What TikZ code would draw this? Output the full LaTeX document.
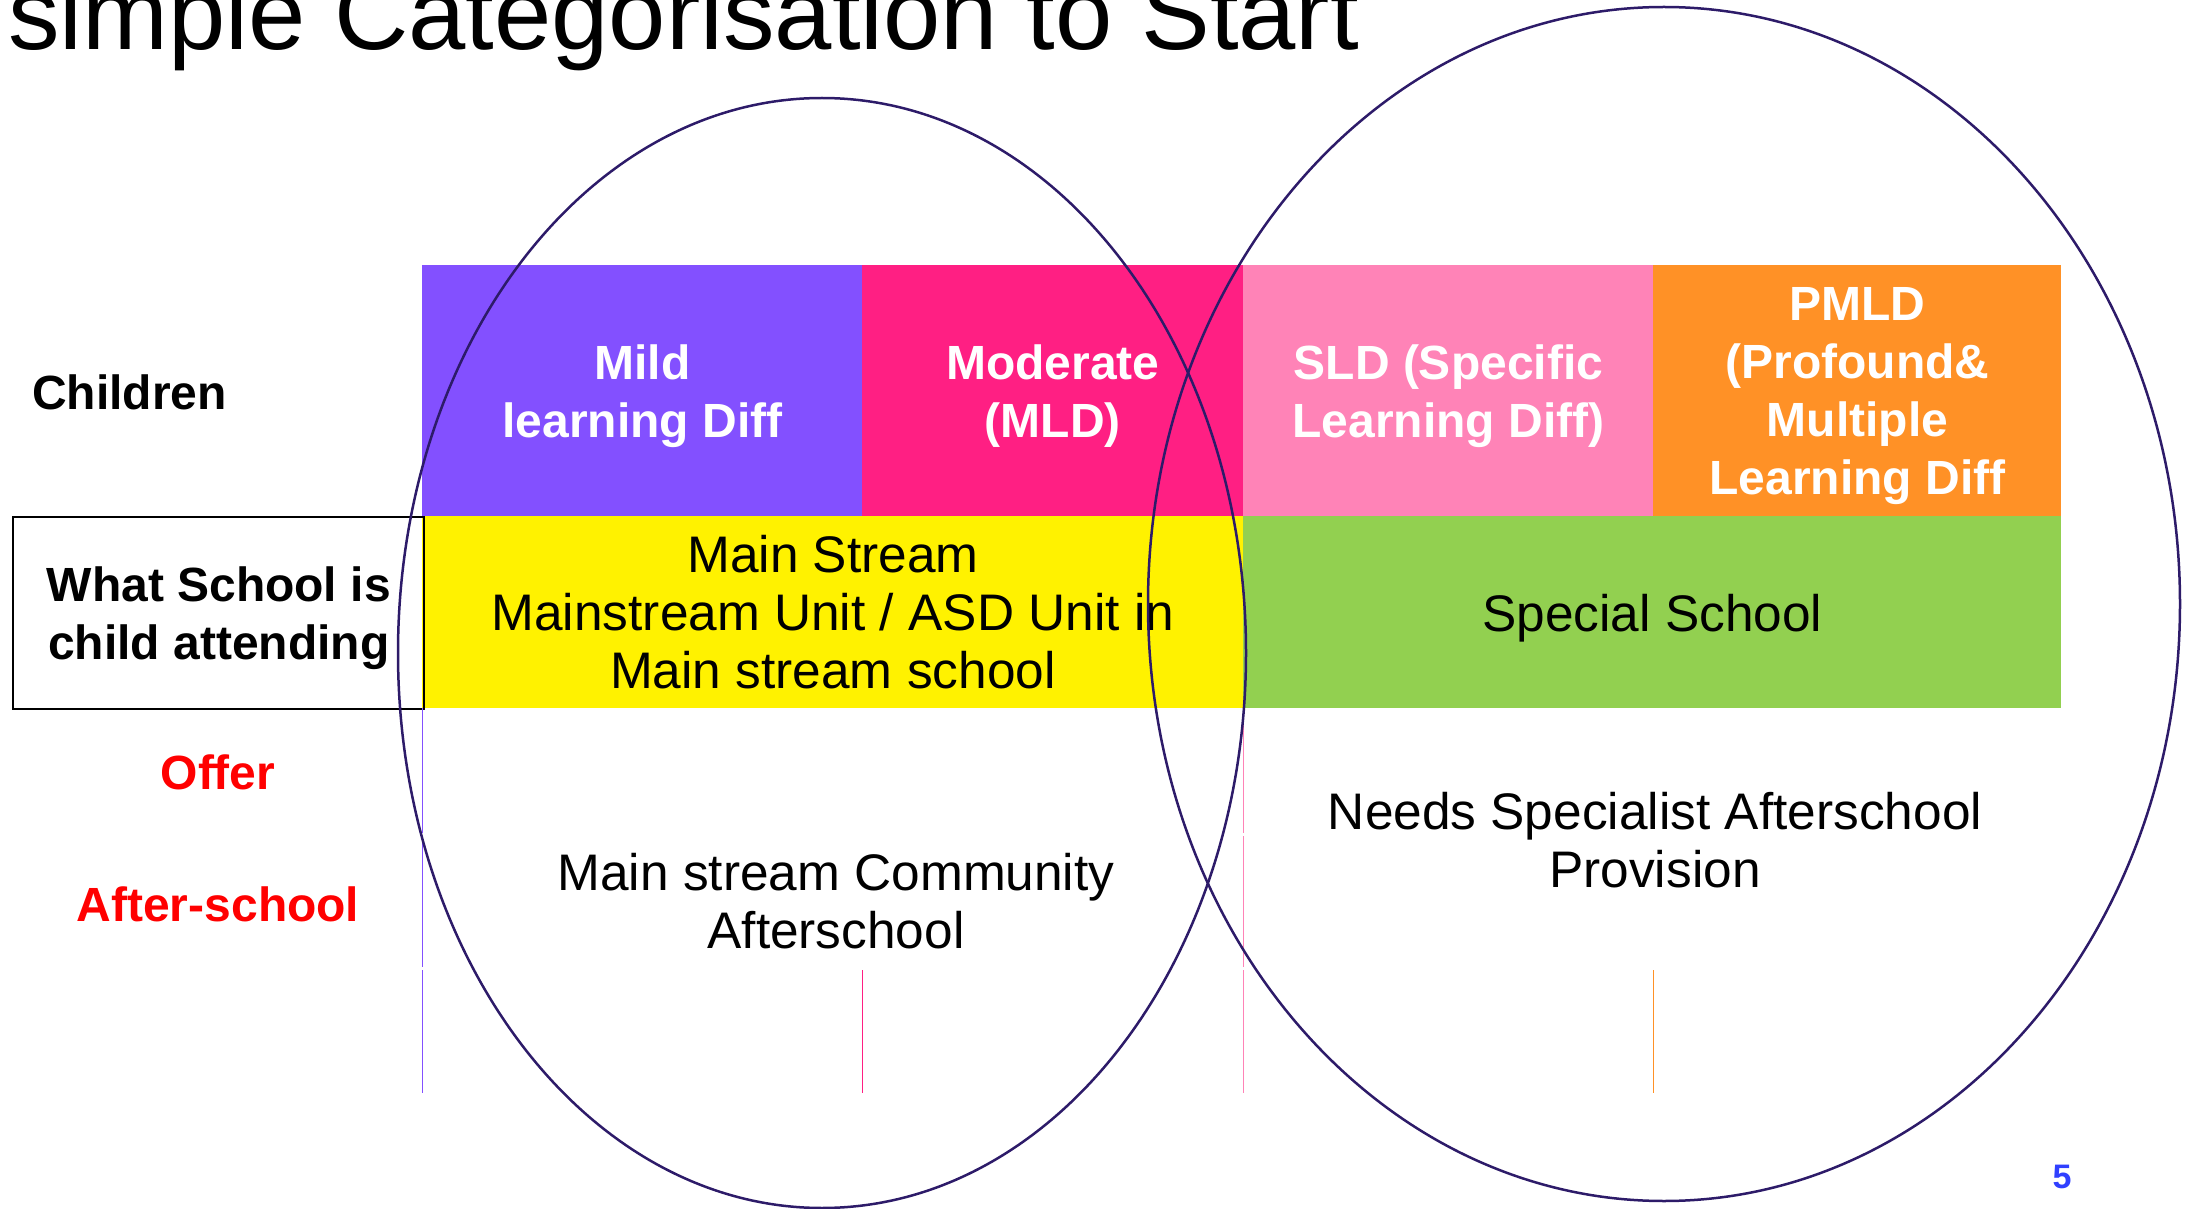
\documentclass[tikz,border=0pt]{standalone}
\usepackage{fontspec}
\setmainfont{Liberation Sans}
\usepackage{xcolor}

\definecolor{mildc}{HTML}{8350FF}
\definecolor{modc}{HTML}{FF1F83}
\definecolor{sldc}{HTML}{FF83B7}
\definecolor{pmldc}{HTML}{FF9126}
\definecolor{specc}{HTML}{92D050}
\definecolor{ringc}{HTML}{2D1B69}
\definecolor{pagec}{HTML}{3040FF}

\tikzset{
  cell/.style={rectangle, inner sep=0pt, anchor=north west, align=center},
  head/.style={cell, text=white, text depth=0pt, minimum height=125.5pt, font=\fontsize{24}{29}\selectfont\bfseries},
  body/.style={align=center, font=\fontsize{25.7}{29}\selectfont},
  rowlab/.style={align=center, font=\fontsize{24}{29}\selectfont\bfseries},
  grid/.style={line width=0.5pt},
  ring/.style={draw=ringc, line width=1.25pt}
}

\begin{document}
\begin{tikzpicture}[x=0.5pt,y=-0.5pt]
\useasboundingbox (0,0) rectangle (2192,1209);

\node[anchor=base west, font=\fontsize{51.5}{60}\selectfont] (0) at (1,50) {simple Categorisation to Start};

\node[head, fill=mildc, minimum width=220pt] (1) at (422,265) {Mild\\learning Diff};
\node[head, fill=modc, minimum width=190.5pt] (2) at (862,265) {Moderate\\(MLD)};
\node[head, fill=sldc, minimum width=205pt] (3) at (1243,265) {SLD (Specific\\Learning Diff)};
\node[head, fill=pmldc, minimum width=204pt] (4) at (1653,265) {PMLD\\(Profound\&\\Multiple\\Learning Diff};

\node[cell, body, fill=yellow, minimum width=410.5pt, minimum height=96pt] (5) at (422,516) {Main Stream\\Mainstream Unit / ASD Unit in\\Main stream school};
\node[cell, body, text depth=0pt, fill=specc, minimum width=409pt, minimum height=96pt] (6) at (1243,516) {Special School};

\node[rowlab, anchor=west] (7) at (25,392) {Children};
\node[rowlab, draw=black, line width=1.2pt, text depth=0pt, anchor=north west, inner sep=0pt, minimum width=205.5pt, minimum height=96pt] (8) at (12,516) {What School is\\child attending};
\node[rowlab, text=red] (9) at (218,772) {Offer};
\node[rowlab, text=red] (10) at (218,904) {After-school};

\node[body] (11) at (836,901) {Main stream Community\\Afterschool};
\node[body] (12) at (1655,840) {Needs Specialist Afterschool\\Provision};

% thin column borders below the table
\foreach \x/\c in {422/mildc, 1243/sldc} {
  \draw[grid, \c] (\x,708) -- (\x,833);
  \draw[grid, \c] (\x,836) -- (\x,967);
}
\foreach \x/\c in {422/mildc, 862/modc, 1243/sldc, 1653/pmldc}
  \draw[grid, \c] (\x,970) -- (\x,1093);

\draw[ring] (822,653) ellipse [x radius=212pt, y radius=277.5pt];
\draw[ring] (1664,604) ellipse [x radius=258pt, y radius=298.5pt];

\node[font=\fontsize{17}{20}\selectfont\bfseries, text=pagec] (13) at (2062,1177) {5};
\end{tikzpicture}
\end{document}
